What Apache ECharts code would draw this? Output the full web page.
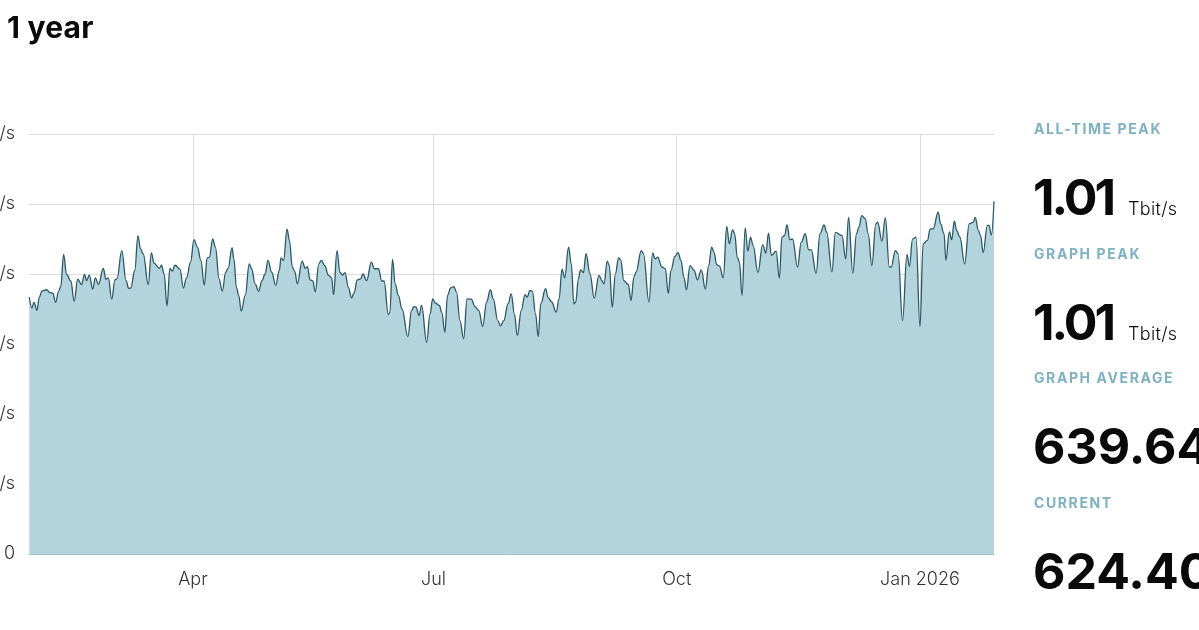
<!DOCTYPE html>
<html>
<head>
<meta charset="utf-8">
<title>1 year</title>
<script src="https://cdn.jsdelivr.net/npm/echarts@6/dist/echarts.min.js"></script>
<style>
    html, body { margin: 0; width: 1199px; height: 630px; overflow: hidden; background: #fff; font-family: Inter, sans-serif; color: #0a0a0a; }
    #main { position: absolute; left: 0; top: 0; width: 1199px; height: 630px; }
    h1 { position: absolute; left: 7px; top: 9px; margin: 0; font-size: 30px; line-height: 36px; font-weight: 700; letter-spacing: 0.2px; }
    .stat-label { position: absolute; left: 1034px; font-size: 14px; line-height: 18px; font-weight: 700; letter-spacing: 1.6px; color: #7fb1c2; white-space: nowrap; }
    .stat-value { position: absolute; left: 1033px; font-size: 50px; line-height: 60px; font-weight: 700; white-space: nowrap; }
    .stat-value span { font-size: 18px; font-weight: 300; letter-spacing: 0.3px; margin-left: 15px; }
</style>
</head>
<body>
<div id="main"></div>
<h1>1 year</h1>
<div id="stats"></div>
<script>
// days since 2025-01-29 and traffic in Gbit/s
let days = [
    0.1,1.1,1.9,3.0,3.9,4.9,6.7,7.9,9.0,10.1,11.2,12.0,13.1,14.2,15.8,17.1,18.4,19.9,21.0,21.8,22.8,24.1,25.1,26.3,28.1,29.1,30.0,31.3,32.5,33.3,
    35.1,36.7,37.7,38.5,40.0,41.2,42.2,43.2,45.1,46.3,47.3,49.3,50.1,51.1,52.2,53.3,54.2,55.2,57.1,58.4,59.6,61.1,62.4,63.7,65.0,66.3,67.4,68.2,69.5,70.5,
    71.9,73.1,74.4,75.3,76.8,77.5,78.5,79.3,80.3,81.8,83.3,84.2,85.5,86.9,88.1,89.3,90.4,91.8,93.3,94.7,95.3,96.3,97.6,98.5,99.6,100.5,101.5,103.3,104.5,105.3,
    106.3,107.3,108.3,109.6,110.6,111.9,113.2,114.5,115.2,116.5,117.6,118.6,119.5,120.8,122.0,122.9,124.2,125.4,126.3,127.7,129.5,130.6,132.2,133.4,134.3,135.9,136.5,137.5,138.5,139.7,
    141.1,143.3,144.7,145.6,146.4,147.5,148.5,150.4,151.7,152.7,153.7,155.2,156.1,157.3,158.3,159.5,160.7,161.7,163.0,164.4,165.7,167.3,168.7,170.1,171.6,173.1,174.5,175.6,177.3,178.3,
    179.6,181.2,182.4,183.6,184.7,186.2,187.6,188.4,189.5,190.4,191.6,192.6,193.6,195.4,196.4,197.7,199.4,200.5,201.6,202.6,204.1,205.1,206.1,206.8,207.8,208.6,209.7,210.7,212.2,213.8,
    215.6,216.7,217.5,218.7,219.5,220.6,221.8,223.0,223.8,225.0,226.7,227.7,228.8,229.6,231.6,232.4,234.5,235.9,236.8,237.8,239.4,240.7,241.8,242.8,244.3,245.5,246.6,247.7,248.7,250.0,
    251.6,252.8,254.3,255.8,257.1,258.2,259.1,260.1,261.1,262.6,263.9,264.9,266.1,266.9,267.9,268.7,269.7,270.9,271.9,272.9,273.9,275.7,277.5,278.7,279.7,280.8,282.6,283.8,284.8,285.8,
    286.7,287.8,288.8,290.7,292.1,293.6,294.9,295.9,297.7,299.2,300.7,301.7,303.7,305.0,307.5,308.9,310.0,311.6,313.0,313.9,315.0,316.3,317.4,318.8,320.3,321.0,322.6,323.9,325.4,326.1,
    327.7,328.7,330.4,332.1,333.0,334.2,335.5,337.0,338.2,339.8,340.9,342.0,343.9,344.8,346.1,346.8,348.1,349.0,350.0,350.9,352.1,353.9,355.6,357.2,357.9,359.1,359.9,360.9,362.5,363.1,
    364.0,365.0
];
let traffic = [
    734,703,719,696,734,751,755,747,745,719,751,764,856,799,780,722,785,770,799,781,797,757,789,770,816,785,789,728,783,787,
    867,781,759,760,810,909,871,858,770,860,831,816,825,800,709,816,808,825,814,760,789,834,898,877,839,768,846,848,900,877,
    786,751,805,816,875,843,760,739,694,739,829,815,772,751,781,800,839,805,768,810,846,839,928,896,820,808,772,837,816,821,
    783,781,749,829,839,824,797,789,741,867,805,797,804,762,732,745,783,786,800,781,834,815,815,780,780,684,691,842,772,739,
    700,621,696,707,705,681,710,605,686,729,717,710,691,634,739,760,764,748,667,615,729,728,707,696,650,720,755,729,667,652,
    667,715,743,686,624,696,741,734,753,751,686,621,715,758,732,720,691,729,814,789,877,829,715,720,786,812,804,858,800,731,
    796,781,772,837,824,705,800,846,840,781,770,724,791,805,867,858,720,860,843,848,820,815,744,810,850,861,839,791,755,824,
    810,783,812,757,824,877,862,827,823,789,936,886,926,915,848,834,739,932,865,905,881,804,884,860,917,853,865,788,905,910,
    940,898,900,820,891,915,869,869,802,915,940,920,806,919,910,843,962,802,915,934,967,958,915,824,943,948,894,961,820,820,
    867,858,667,856,821,900,905,650,886,896,929,929,977,943,915,839,920,898,951,924,905,829,943,948,962,924,910,861,939,939,
    911,1008
];

// first of each quarter, in days since 2025-01-29
let tickDays = [62, 153, 245, 337];
let tickLabels = ['Apr', 'Jul', 'Oct', 'Jan 2026'];
let yTicks = { 0: '0', 200: '200 Gbit/s', 400: '400 Gbit/s', 600: '600 Gbit/s', 800: '800 Gbit/s', 1000: '1 Tbit/s', 1200: '1.2 Tbit/s' };

let statNames = ['ALL-TIME PEAK', 'GRAPH PEAK', 'GRAPH AVERAGE', 'CURRENT'];
let statValues = ['1.01', '1.01', '639.64', '624.40'];
let statUnits = ['Tbit/s', 'Tbit/s', '', ''];
let statTops = [120, 245, 369, 494];

let seriesData = days.map(function (d, i) {
    return [d, traffic[i]];
});

let statsHtml = '';
for (let i = 0; i < statNames.length; i++) {
    // the narrow "1" of the original face needs tighter spacing in Inter
    let tight = statValues[i].charAt(0) === '1' ? 'letter-spacing:-3px;' : '';
    statsHtml += '<div class="stat-label" style="top:' + statTops[i] + 'px">' + statNames[i] + '</div>';
    statsHtml += '<div class="stat-value" style="' + tight + 'top:' + (statTops[i] + 47) + 'px">' + statValues[i];
    if (statUnits[i]) {
        statsHtml += '<span>' + statUnits[i] + '</span>';
    }
    statsHtml += '</div>';
}
document.getElementById('stats').innerHTML = statsHtml;

let myChart = echarts.init(document.getElementById('main'));

let option = {
    animation: false,
    grid: { left: 29, right: 205, top: 134, bottom: 76, outerBoundsMode: 'none' },
    xAxis: {
        type: 'value',
        min: 0,
        max: 365,
        axisLine: { lineStyle: { color: '#9fc3d0', width: 1 } },
        axisTick: { show: false, customValues: tickDays },
        splitLine: { show: true, lineStyle: { color: '#dcdcdc', width: 1 } },
        axisLabel: {
            customValues: tickDays,
            margin: 17,
            fontFamily: 'Inter',
            fontSize: 18,
            fontWeight: 300,
            color: '#333',
            formatter: function (value) {
                return tickLabels[tickDays.indexOf(value)];
            }
        }
    },
    yAxis: {
        type: 'value',
        min: 0,
        max: 1200,
        interval: 200,
        axisLine: { show: false },
        axisTick: { show: false },
        splitLine: { lineStyle: { color: '#dcdcdc', width: 1 } },
        axisLabel: {
            margin: 14,
            fontFamily: 'Inter',
            fontSize: 18,
            fontWeight: 300,
            color: '#333',
            formatter: function (value) {
                return yTicks[value];
            }
        }
    },
    series: [
        {
            type: 'line',
            data: seriesData,
            showSymbol: false,
            smooth: 0.4,
            smoothMonotone: 'x',
            lineStyle: { color: '#2b5866', width: 1.3 },
            areaStyle: { color: '#b3d3dd', opacity: 1 }
        }
    ]
};
myChart.setOption(option);
</script>
</body>
</html>
